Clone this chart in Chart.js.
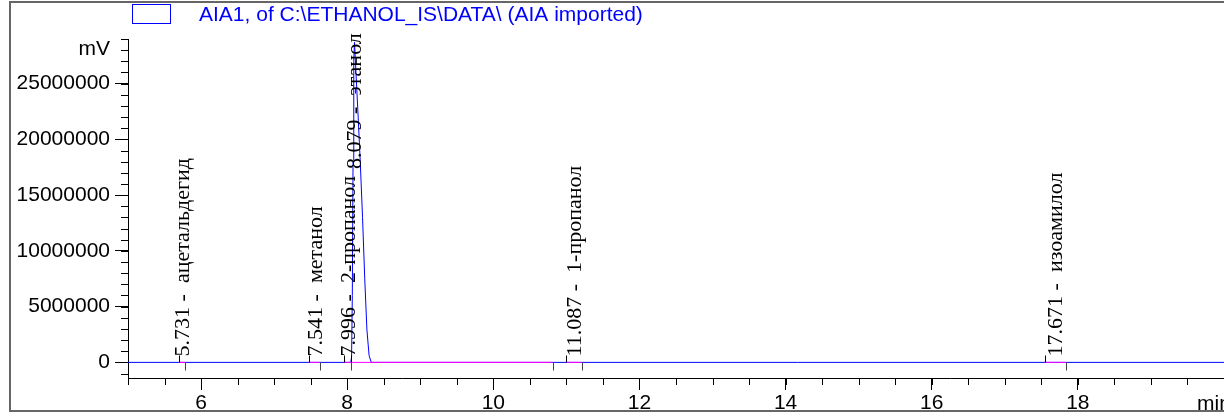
<!DOCTYPE html>
<html>
<head>
<meta charset="utf-8">
<script src="https://cdn.jsdelivr.net/npm/chart.js@4.4.1/dist/chart.umd.min.js"></script>
<style>
  html, body { margin: 0; padding: 0; background: #fff; overflow: hidden; }
  #wrap { width: 1224px; height: 417px; }
</style>
</head>
<body>
<div id="wrap"><canvas id="chrom" width="1224" height="417"></canvas></div>
<script>
// chromatogram trace (time in min, signal in mV as exported)
const seriesName = 'AIA1, of C:\\ETHANOL_IS\\DATA\\ (AIA imported)';
const signalTime  = [5, 8.05, 8.06, 8.07, 8.08, 8.09, 8.10, 8.12, 8.15, 8.18, 8.21, 8.24, 8.27, 8.30, 8.33, 20];
const signalValue = [0, 0, 500000, 6000000, 18000000, 27000000, 28700000, 26000000, 22000000, 17800000, 13000000, 7500000, 2900000, 600000, 0, 0];

// integrated peaks
const peakTimes = [5.731, 7.541, 7.996, 8.079, 11.087, 17.671];
const peakNames = ['ацетальдегид', 'метанол', '2-пропанол', 'этанол', '1-пропанол', 'изоамилол'];
const peakStart = [5.70, 7.48, 7.96, 8.05, 11.00, 17.55];
const peakEnd   = [5.78, 7.63, 8.05, 10.81, 11.21, 17.84];

// axis ticks
const xLabelTicks = [6, 8, 10, 12, 14, 16, 18];
const yLabelTicks = [0, 5000000, 10000000, 15000000, 20000000, 25000000];
const xMinorStep = 0.5;
const yMinorStep = 1000000;

// baseline segments drawn in magenta, broken between peaks
const baselinePts = [];
peakStart.forEach((s, i) => {
  baselinePts.push({ x: s, y: 0 }, { x: peakEnd[i], y: 0 }, { x: peakEnd[i], y: null });
});

const signalAt = t => {
  for (let i = 1; i < signalTime.length; i++) {
    if (t <= signalTime[i]) {
      const f = (t - signalTime[i - 1]) / (signalTime[i] - signalTime[i - 1]);
      return signalValue[i - 1] + f * (signalValue[i] - signalValue[i - 1]);
    }
  }
  return 0;
};

const line = (ctx, x1, y1, x2, y2) => {
  ctx.beginPath(); ctx.moveTo(x1, y1); ctx.lineTo(x2, y2); ctx.stroke();
};

// frame, minor ticks, legend, units, peak annotations
const decorations = {
  id: 'decorations',
  afterDraw(chart) {
    const { ctx, chartArea: a, scales: { x, y } } = chart;
    ctx.save();

    // outer frame
    ctx.strokeStyle = '#666';
    ctx.lineWidth = 2;
    ctx.beginPath();
    ctx.moveTo(1230, 2); ctx.lineTo(10, 2); ctx.lineTo(10, 411); ctx.lineTo(1230, 411);
    ctx.stroke();

    // minor ticks
    ctx.strokeStyle = '#000';
    ctx.lineWidth = 1;
    for (let v = x.min; v <= x.max + 1e-9; v += xMinorStep) {
      const px = Math.round(x.getPixelForValue(v)) + 0.5;
      line(ctx, px, a.bottom, px, a.bottom + 7);
    }
    for (let v = Math.ceil(y.min / yMinorStep) * yMinorStep; v <= y.max; v += yMinorStep) {
      const py = Math.round(y.getPixelForValue(v)) + 0.5;
      line(ctx, a.left - 7, py, a.left, py);
    }

    // legend
    ctx.strokeStyle = '#0000ff';
    ctx.strokeRect(132.5, 4.5, 38, 19);
    ctx.fillStyle = '#0000ff';
    ctx.font = '21px "Liberation Sans", Arial, sans-serif';
    ctx.textBaseline = 'middle';
    ctx.textAlign = 'left';
    ctx.fillText(seriesName, 199, 15);

    // units
    ctx.fillStyle = '#000';
    ctx.font = '21px "Liberation Sans", Arial, sans-serif';
    ctx.textAlign = 'right';
    ctx.fillText('mV', 110, 49);
    ctx.textAlign = 'left';
    ctx.fillText('min', 1197, 404);

    // peak start / end markers
    const y0 = Math.round(y.getPixelForValue(0)) + 0.5;
    peakStart.forEach((s, i) => {
      const ps = Math.round(x.getPixelForValue(s)) + 0.5;
      const pe = Math.round(x.getPixelForValue(peakEnd[i])) + 0.5;
      ctx.strokeStyle = '#000';
      line(ctx, ps, y0, ps, y0 - 7);
      ctx.strokeStyle = '#444';
      line(ctx, pe, y0, pe, y0 + 8);
    });

    // peak labels, rotated
    ctx.fillStyle = '#000';
    ctx.font = '22px "Liberation Serif", "Times New Roman", serif';
    ctx.textAlign = 'left';
    ctx.textBaseline = 'alphabetic';
    peakTimes.forEach((t, i) => {
      const text = t.toFixed(3) + ' -  ' + peakNames[i];
      const w = ctx.measureText(text).width;
      const px = x.getPixelForValue(t);
      let start = y.getPixelForValue(signalAt(t)) - 6;
      if (start - w < 32) start = 32 + w;
      ctx.save();
      ctx.translate(px + 8, start);
      ctx.rotate(-Math.PI / 2);
      ctx.fillText(text, 0, 0);
      ctx.restore();
    });

    ctx.restore();
  }
};

const tickFont = { family: '"Liberation Sans", Arial, sans-serif', size: 21 };

new Chart(document.getElementById('chrom').getContext('2d'), {
  type: 'line',
  data: {
    datasets: [
      {
        label: seriesName,
        data: signalTime.map((t, i) => ({ x: t, y: signalValue[i] })),
        borderColor: '#0000ff',
        borderWidth: 1,
        pointRadius: 0,
        tension: 0,
        order: 2
      },
      {
        label: 'baseline',
        data: baselinePts,
        borderColor: '#ff00ff',
        borderWidth: 1,
        pointRadius: 0,
        spanGaps: false,
        order: 1
      }
    ]
  },
  options: {
    responsive: false,
    animation: false,
    events: [],
    layout: { padding: { top: 39, left: 0, right: 0, bottom: 0 } },
    plugins: { legend: { display: false }, tooltip: { enabled: false } },
    scales: {
      x: {
        type: 'linear',
        min: 5,
        max: 20,
        afterBuildTicks: s => { s.ticks = xLabelTicks.map(v => ({ value: v })); },
        afterFit: s => { s.height = 39; },
        border: { display: true, color: '#000', width: 1 },
        grid: { drawOnChartArea: false, tickLength: 12, color: '#000' },
        ticks: { color: '#000', font: tickFont, padding: 1, maxRotation: 0 }
      },
      y: {
        type: 'linear',
        min: -1400000,
        max: 29000000,
        afterBuildTicks: s => { s.ticks = yLabelTicks.map(v => ({ value: v })); },
        afterFit: s => { s.width = 128; },
        border: { display: true, color: '#000', width: 1 },
        grid: { drawOnChartArea: false, tickLength: 13, color: '#000' },
        ticks: { color: '#000', font: tickFont, padding: 5, callback: v => String(v) }
      }
    }
  },
  plugins: [decorations]
});
</script>
</body>
</html>
